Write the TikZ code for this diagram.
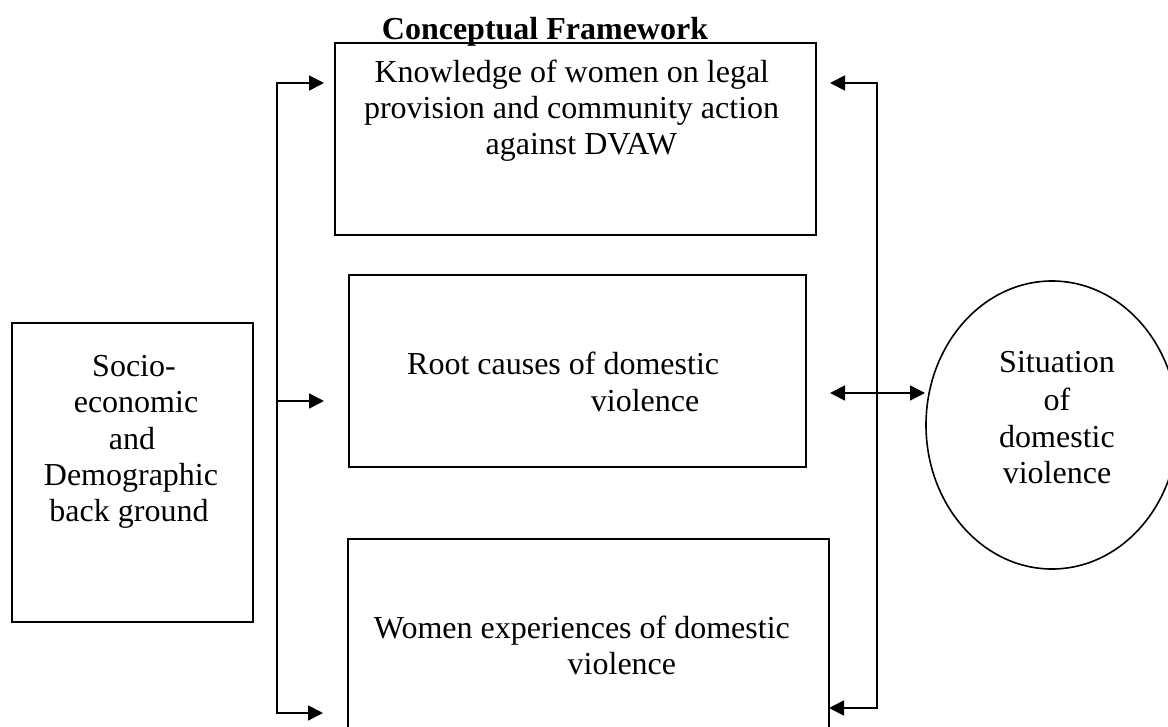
\documentclass[tikz,border=0pt]{standalone}
\usepackage{fontspec}
\setmainfont{Liberation Serif}
\usetikzlibrary{arrows.meta,calc,shapes.geometric}
\begin{document}
\begin{tikzpicture}[x=1pt,y=-1pt,line width=1.8pt,
  box/.style={draw,line width=1.8pt,inner sep=0pt,outer sep=0pt,anchor=north west},
  arr/.style={-{Triangle[length=15pt,width=15pt]}},
  dbl/.style={{Triangle[length=15pt,width=15pt]}-{Triangle[length=15pt,width=15pt]}},
  txt/.style={inner sep=0pt,font=\fontsize{32}{36}\selectfont},
  ttl/.style={inner sep=0pt,font=\bfseries\fontsize{32}{36}\selectfont}]
\useasboundingbox (0,0) rectangle (1168,727);
\clip (0,0) rectangle (1168,727);
% boxes
\node[box,minimum width=481pt,minimum height=192pt] (topbox) at (335,43) {};
\node[box,minimum width=457pt,minimum height=192pt] (midbox) at (349,275) {};
\node[box,minimum width=481pt,minimum height=250pt] (botbox) at (348,539) {};
\node[box,minimum width=241pt,minimum height=299pt] (leftbox) at (12,323) {};
\node[draw,ellipse,line width=1.6pt,inner sep=0pt,outer sep=0pt,minimum width=252pt,minimum height=288pt] (sit) at (1052,425) {};
% title
\node[ttl,anchor=base] (title) at (545,40) {Conceptual Framework};
% top box text
\node[txt,anchor=base east] (k1) at (770,83) {Knowledge of women on legal};
\node[txt,anchor=base east] (k2) at (780,119) {provision and community action};
\node[txt,anchor=base east] (k3) at (678,155) {against DVAW};
% middle box text
\node[txt,anchor=base east] (r1) at (720,375) {Root causes of domestic};
\node[txt,anchor=base west] (r2) at (590,411) {violence};
% bottom box text
\node[txt,anchor=base west] (w1) at (373,638) {Women experiences of domestic};
\node[txt,anchor=base east] (w2) at (677,674) {violence};
% left box text
\node[txt,anchor=base] (s1) at (134,377) {Socio-};
\node[txt,anchor=base] (s2) at (136,413) {economic};
\node[txt,anchor=base] (s3) at (132,449) {and};
\node[txt,anchor=base] (s4) at (131,485) {Demographic};
\node[txt,anchor=base] (s5) at (129,521) {back ground};
% ellipse text
\node[txt,anchor=base] (e1) at (1057,373) {Situation};
\node[txt,anchor=base] (e2) at (1057,410) {of};
\node[txt,anchor=base] (e3) at (1057,447) {domestic};
\node[txt,anchor=base] (e4) at (1057,483) {violence};
% left connector
\coordinate (L1) at (277,83);
\coordinate (L2) at (277,401);
\coordinate (L3) at (277,713);
\draw[line cap=rect] (L1) -- (L3);
\draw[arr] (L1) -- ($(topbox.west |- L1)+(-11,0)$);
\draw[arr] (L2) -- ($(midbox.west |- L2)+(-25,0)$);
\draw[arr] (L3) -- ($(botbox.west |- L3)+(-25,0)$);
% right connector
\coordinate (R1) at (877,83);
\coordinate (R3) at (877,708);
\draw[line cap=rect] (R1) -- (R3);
\draw[arr] (R1) -- ($(topbox.east |- R1)+(14,0)$);
\draw[arr] (R3) -- (botbox.east |- R3);
\coordinate (D1) at (830,393);
\coordinate (D2) at (925,393);
\draw[dbl] (D1) -- (D2);
\end{tikzpicture}
\end{document}
